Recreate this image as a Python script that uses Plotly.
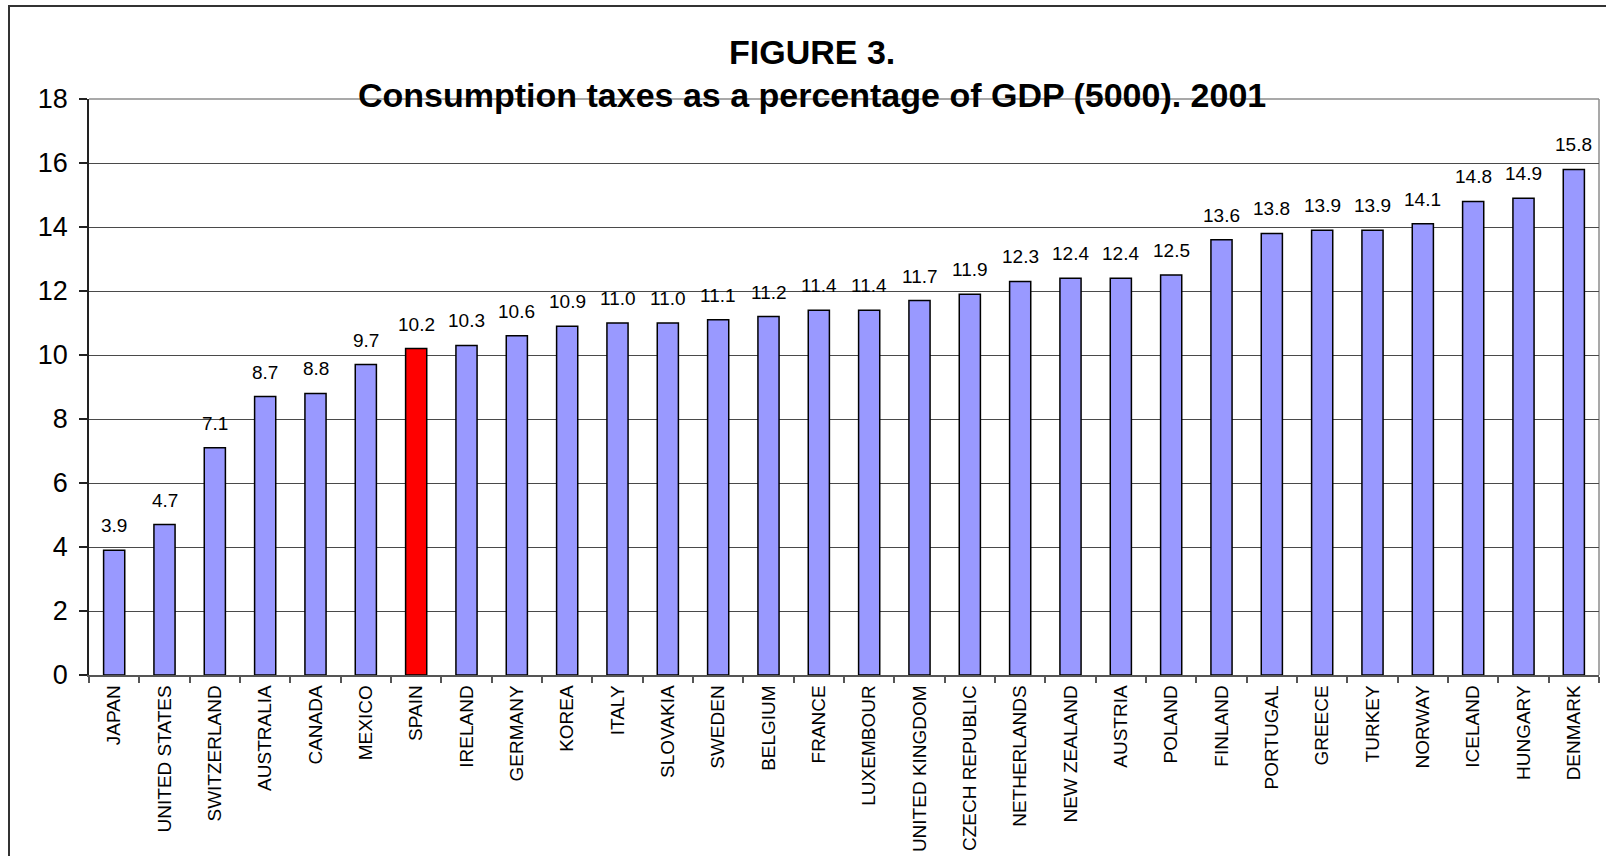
import plotly.graph_objects as go

countries = [
    "JAPAN", "UNITED STATES", "SWITZERLAND", "AUSTRALIA", "CANADA", "MEXICO",
    "SPAIN", "IRELAND", "GERMANY", "KOREA", "ITALY", "SLOVAKIA", "SWEDEN",
    "BELGIUM", "FRANCE", "LUXEMBOUR", "UNITED KINGDOM", "CZECH REPUBLIC",
    "NETHERLANDS", "NEW ZEALAND", "AUSTRIA", "POLAND", "FINLAND", "PORTUGAL",
    "GREECE", "TURKEY", "NORWAY", "ICELAND", "HUNGARY", "DENMARK",
]
tax_pct_gdp = [
    3.9, 4.7, 7.1, 8.7, 8.8, 9.7, 10.2, 10.3, 10.6, 10.9, 11.0, 11.0, 11.1,
    11.2, 11.4, 11.4, 11.7, 11.9, 12.3, 12.4, 12.4, 12.5, 13.6, 13.8, 13.9,
    13.9, 14.1, 14.8, 14.9, 15.8,
]
highlight = "SPAIN"
y_ticks = [0, 2, 4, 6, 8, 10, 12, 14, 16, 18]

FONT = "Arial, Liberation Sans, sans-serif"
W, H = 1606, 856
ML, MR, MT, MB = 89, 7, 99, 181

bar_colors = ["#FF0000" if c == highlight else "#9999FF" for c in countries]

fig = go.Figure(
    go.Bar(
        x=countries,
        y=tax_pct_gdp,
        marker=dict(color=bar_colors, line=dict(color="#000000", width=1.5)),
        hoverinfo="x+y",
    )
)

# value labels above each bar
for c, v in zip(countries, tax_pct_gdp):
    fig.add_annotation(
        x=c, y=v, text=f"{v:.1f}", showarrow=False,
        yanchor="bottom", yshift=12,
        font=dict(family=FONT, size=19, color="#000000"),
    )

# two-line bold title
title_x = (812 - ML) / (W - ML - MR)
plot_h = H - MT - MB
for txt, yc in [("FIGURE 3.", 52), ("Consumption taxes as a percentage of GDP (5000). 2001", 95)]:
    fig.add_annotation(
        xref="paper", yref="paper", x=title_x, y=(H - MB - yc) / plot_h,
        text=f"<b>{txt}</b>", showarrow=False, xanchor="center", yanchor="middle",
        font=dict(family=FONT, size=34, color="#000000"),
    )

plot_w = W - ML - MR
# plot-area frame on the top and right sides
fig.add_shape(type="line", xref="paper", yref="paper", x0=0, x1=1, y0=1, y1=1,
              line=dict(color="#8c8c8c", width=1.5), layer="below")
fig.add_shape(type="line", xref="paper", yref="paper", x0=1, x1=1, y0=0, y1=1,
              line=dict(color="#8c8c8c", width=1.5), layer="below")
# outer chart border
fig.add_shape(
    type="rect", xref="paper", yref="paper",
    x0=(9 - ML) / plot_w, x1=(1625 - ML) / plot_w,
    y0=(H - MB - 880) / plot_h, y1=(H - MB - 6) / plot_h,
    line=dict(color="#333333", width=2), fillcolor="rgba(0,0,0,0)", layer="below",
)

fig.update_layout(
    width=W, height=H,
    margin=dict(l=ML, r=MR, t=MT, b=MB, pad=0, autoexpand=False),
    paper_bgcolor="#FFFFFF", plot_bgcolor="#FFFFFF",
    bargap=0.58, showlegend=False,
    font=dict(family=FONT, color="#000000"),
)
fig.update_xaxes(
    type="category", tickangle=-90, tickfont=dict(family=FONT, size=19, color="#000000"),
    showline=True, linecolor="#555555", linewidth=1.5,
    ticks="outside", tickson="boundaries", ticklen=6, tickcolor="#555555", tickwidth=1.5,
    showgrid=False, ticklabelstandoff=1, automargin=False,
)
fig.update_yaxes(
    range=[0, 18], tickvals=y_ticks, tickfont=dict(family=FONT, size=27, color="#000000"),
    showline=True, linecolor="#222222", linewidth=1.5,
    ticks="outside", ticklen=8, tickcolor="#222222", tickwidth=1.5,
    showgrid=True, gridcolor="#4a4a4a", gridwidth=1, zeroline=False,
    ticklabelstandoff=6, automargin=False,
)

fig.write_html("out.html")
